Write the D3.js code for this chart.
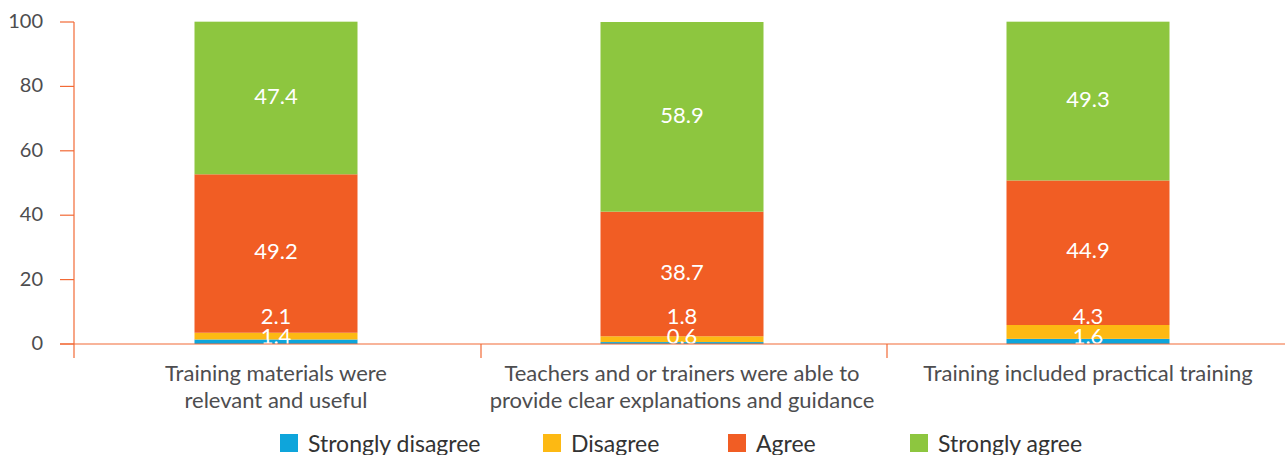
<!DOCTYPE html>
<html>
<head>
<meta charset="utf-8">
<script src="https://d3js.org/d3.v7.min.js"></script>
<style>
  body { margin: 0; background: #fff; }
  svg { display: block; font-family: Lato, "Open Sans", sans-serif; }
</style>
</head>
<body>
<div id="vis"></div>
<script>
var width = 1285;
var height = 455;

// chart data
var categories = [
    ["Training materials were", "relevant and useful"],
    ["Teachers and or trainers were able to", "provide clear explanations and guidance"],
    ["Training included practical training"]
];
var seriesNames = ["Strongly disagree", "Disagree", "Agree", "Strongly agree"];
var stronglyDisagree = [1.4, 0.6, 1.6];
var disagree = [2.1, 1.8, 4.3];
var agree = [49.2, 38.7, 44.9];
var stronglyAgree = [47.4, 58.9, 49.3];
var yTicks = [0, 20, 40, 60, 80, 100];

var colors = ["#0ea5db", "#fdb913", "#f15d24", "#8dc63f"];
var axisColor = "#f26a36";

var rows = categories.map(function (c, i) {
    return {
        idx: i,
        "Strongly disagree": stronglyDisagree[i],
        "Disagree": disagree[i],
        "Agree": agree[i],
        "Strongly agree": stronglyAgree[i]
    };
});

var svg = d3.select('#vis').append('svg')
    .attr('width', width)
    .attr('height', height);

var x = d3.scaleBand()
    .domain(d3.range(categories.length))
    .range([73, 73 + 406 * 3])
    .paddingInner(0)
    .paddingOuter(0);

var y = d3.scaleLinear().domain([0, 100]).range([344, 22]);

var barW = 163;

var stack = d3.stack().keys(seriesNames);
var layers = stack(rows);

// bars
svg.append('g').selectAll('g')
    .data(layers)
    .enter().append('g')
    .attr('fill', function (d, i) { return colors[i]; })
    .selectAll('rect')
    .data(function (d) { return d; })
    .enter().append('rect')
    .attr('x', function (d, i) { return x(i) + x.bandwidth() / 2 - barW / 2; })
    .attr('width', barW)
    .attr('y', function (d) { return y(d[1]); })
    .attr('height', function (d) { return y(d[0]) - y(d[1]); });

// value labels
var labels = svg.append('g')
    .attr('fill', '#fff')
    .attr('font-size', 22)
    .attr('text-anchor', 'middle');

layers.forEach(function (layer, k) {
    layer.forEach(function (d, i) {
        var v = d[1] - d[0];
        var cy;
        if (v < 10) {
            // small segments get stacked labels just above the axis
            cy = y(0) - 8 - 20 * k;
        } else {
            cy = (y(d[0]) + y(d[1])) / 2 - 2;
        }
        labels.append('text')
            .attr('x', x(i) + x.bandwidth() / 2)
            .attr('y', cy)
            .attr('dy', '0.35em')
            .text(layers[k][i].data[seriesNames[k]].toFixed(1));
    });
});

// y axis
var yAxis = svg.append('g');
yAxis.append('line')
    .attr('x1', 74).attr('x2', 74)
    .attr('y1', y(100)).attr('y2', 358)
    .attr('stroke', axisColor).attr('stroke-width', 1.2);
yAxis.selectAll('.tick')
    .data(yTicks)
    .enter().append('line')
    .attr('x1', 60).attr('x2', 74)
    .attr('y1', function (d) { return y(d); })
    .attr('y2', function (d) { return y(d); })
    .attr('stroke', axisColor).attr('stroke-width', 1.2);
yAxis.selectAll('text')
    .data(yTicks)
    .enter().append('text')
    .attr('x', 43)
    .attr('y', function (d) { return y(d); })
    .attr('dy', '0.3em')
    .attr('text-anchor', 'end')
    .attr('font-size', 20)
    .attr('fill', '#4d4d4f')
    .text(function (d) { return d; });

// x axis
svg.append('line')
    .attr('x1', 60).attr('x2', width)
    .attr('y1', y(0)).attr('y2', y(0))
    .attr('stroke', axisColor).attr('stroke-width', 1.2);
svg.selectAll('.sep')
    .data(d3.range(1, categories.length))
    .enter().append('line')
    .attr('x1', function (d) { return x(d) + 2; })
    .attr('x2', function (d) { return x(d) + 2; })
    .attr('y1', y(0)).attr('y2', 358)
    .attr('stroke', axisColor).attr('stroke-width', 1.2);

// category labels
svg.append('g').selectAll('text')
    .data(categories)
    .enter().append('text')
    .attr('text-anchor', 'middle')
    .attr('font-size', 22)
    .attr('fill', '#4d4d4f')
    .attr('x', function (d, i) { return x(i) + x.bandwidth() / 2; })
    .attr('y', 381)
    .each(function (d) {
        var t = d3.select(this);
        d.forEach(function (line, j) {
            t.append('tspan')
                .attr('x', t.attr('x'))
                .attr('dy', j === 0 ? 0 : 27)
                .text(line);
        });
    });

// legend
var legendX = [280, 543, 728, 910];
var legend = svg.append('g').selectAll('g')
    .data(seriesNames)
    .enter().append('g')
    .attr('transform', function (d, i) { return 'translate(' + legendX[i] + ',434)'; });
legend.append('rect')
    .attr('width', 18).attr('height', 18)
    .attr('fill', function (d, i) { return colors[i]; });
legend.append('text')
    .attr('x', 28)
    .attr('y', 18)
    .attr('font-size', 23)
    .attr('fill', '#333')
    .text(function (d) { return d; });
</script>
</body>
</html>
